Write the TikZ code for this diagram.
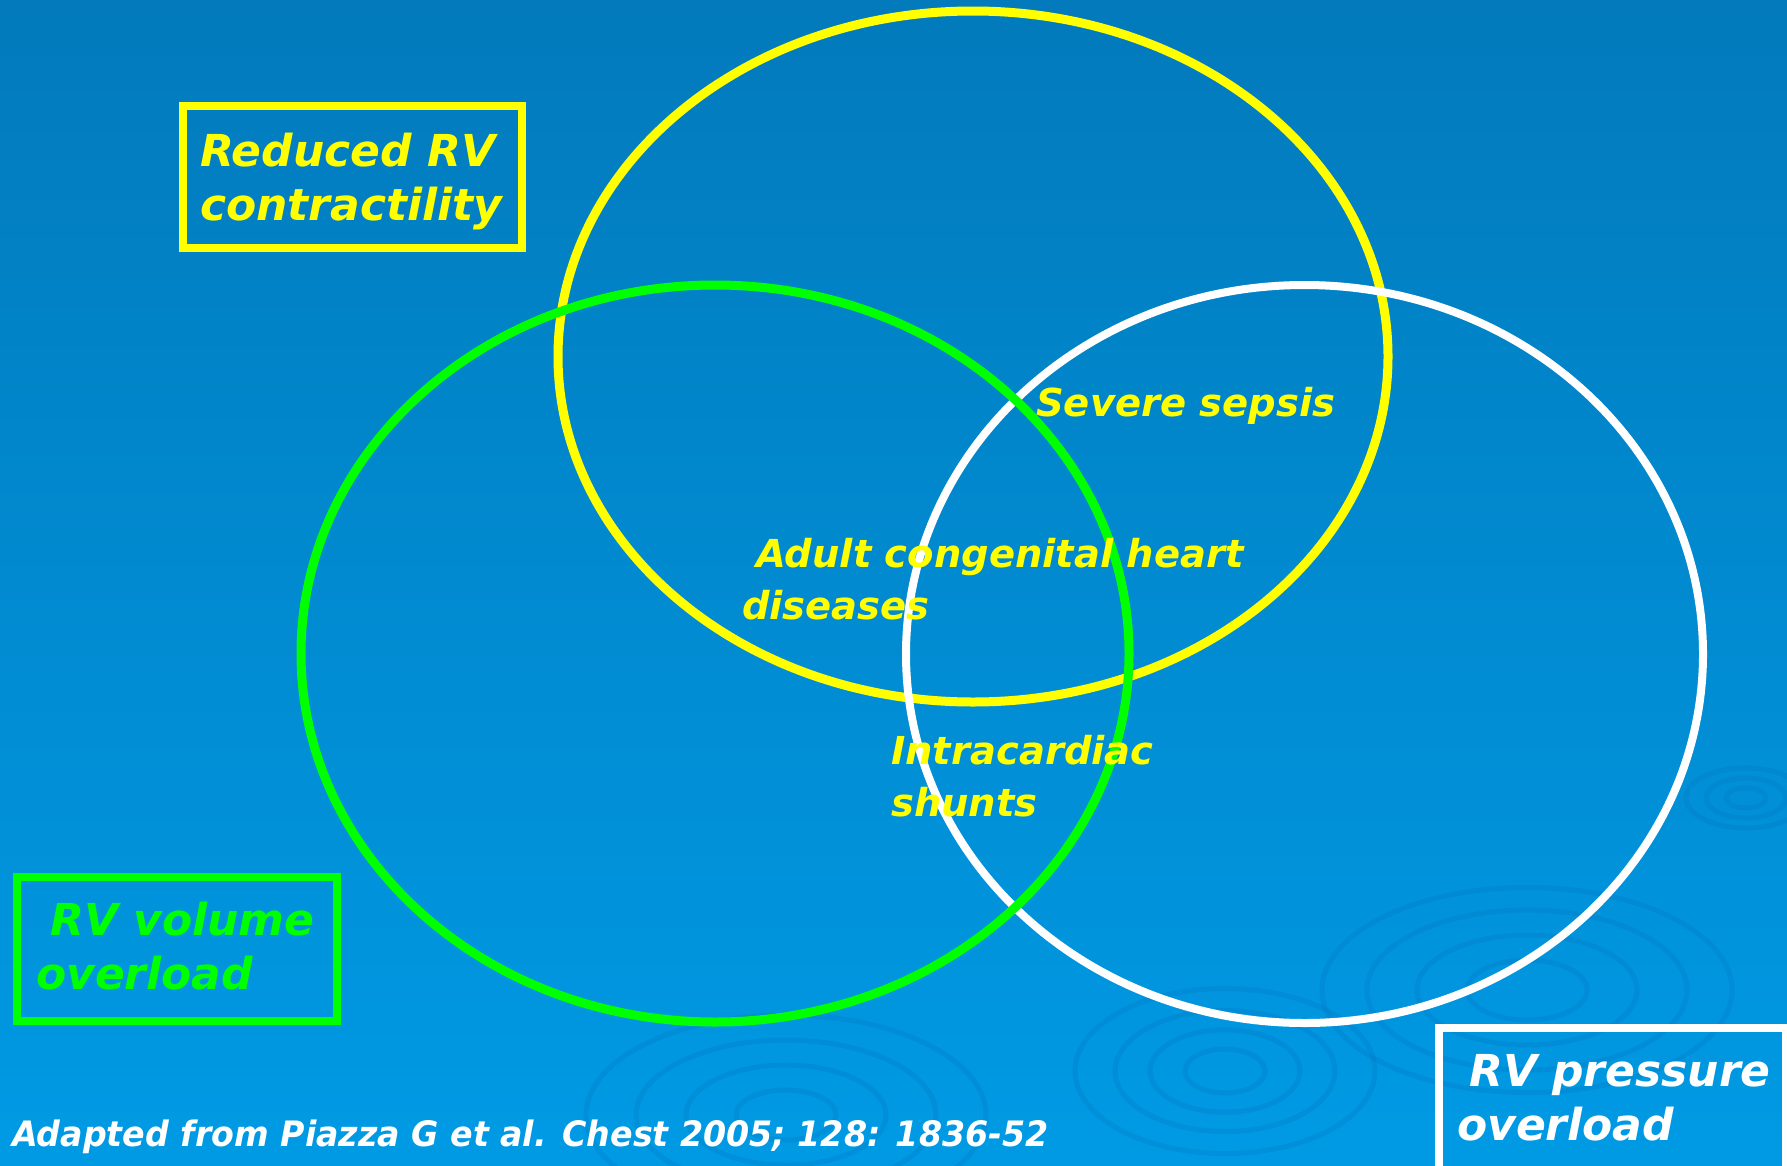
\documentclass[tikz,border=0pt]{standalone}
\usepackage{fontspec}
\setmainfont{DejaVu Sans}
\newfontfamily\citefont[FakeStretch=0.95]{DejaVu Sans}
\usepackage{tikz}
\definecolor{slidetop}{RGB}{2,122,188}
\definecolor{slidemid}{RGB}{1,128,196}
\definecolor{slidebot}{RGB}{0,154,228}
\definecolor{ripdark}{RGB}{0,120,196}
\definecolor{venyellow}{RGB}{255,255,0}
\definecolor{vengreen}{RGB}{0,255,0}
\tikzstyle{ring} = [line width=9pt]
\tikzstyle{ripple} = [line width=5pt,draw=ripdark,opacity=0.3]
\tikzstyle{outline} = [draw,line width=8pt,inner sep=0pt]
\tikzstyle{boxtext} = [anchor=base west,inner sep=0pt,align=left,
    font=\fontsize{44}{54}\selectfont\bfseries\itshape]
\tikzstyle{circtext} = [anchor=base west,inner sep=0pt,align=left,text=venyellow,
    font=\fontsize{38.5}{52}\selectfont\bfseries\itshape]

\begin{document}
\begin{tikzpicture}[x=1pt,y=-1pt]
    \useasboundingbox (0,0) rectangle (1787,1165);
    \fill[top color=slidetop,middle color=slidemid,bottom color=slidebot] (0,0) rectangle (1787,1165);

    %background ripples
    \foreach \r in {40,75,110,150}
        \draw[ripple] (1225,1071) ellipse [x radius=\r pt,y radius=0.55*\r pt];
    \foreach \r in {60,110,160,205}
        \draw[ripple] (1527,990) ellipse [x radius=\r pt,y radius=0.5*\r pt];
    \foreach \r in {50,100,150,200}
        \draw[ripple] (786,1115) ellipse [x radius=\r pt,y radius=0.5*\r pt];
    \foreach \r in {20,40,60}
        \draw[ripple] (1746,798) ellipse [x radius=\r pt,y radius=0.5*\r pt];

	\draw[ring,venyellow] (973,356.5) ellipse [x radius=415pt,y radius=345.5pt];
	\draw[ring,white,line width=8pt] (1304.5,654) ellipse [x radius=398.5pt,y radius=369pt];
	\draw[ring,vengreen] (715,653.5) ellipse [x radius=414pt,y radius=368.5pt];

    \node(contractbox) at (179,102) [outline,draw=venyellow,anchor=north west,minimum width=339pt,minimum height=142pt] {};
    \node(contract) at (200,220) [boxtext,text=venyellow] {Reduced RV\\contractility};

    \node(volumebox) at (13,873) [outline,draw=vengreen,anchor=north west,minimum width=320pt,minimum height=144pt] {};
    \node(volume) at (36,989) [boxtext,text=vengreen] {\hspace{14pt}RV volume\\overload};

    \node(pressurebox) at (1435,1024) [outline,draw=white,anchor=north west,minimum width=347pt,minimum height=160pt] {};
    \node(pressure) at (1457,1140) [boxtext,text=white] {\hspace{12pt}RV pressure\\overload};

    \node(sepsis) at (1036,416) [circtext] {Severe sepsis};
    \node(congenital) at (742,619) [circtext] {\hspace{14pt}Adult congenital heart\\diseases};
    \node(shunts) at (891,816) [circtext] {Intracardiac\\shunts};

    \node(source) at (12,1146) [anchor=base west,inner sep=0pt,text=white,
        font=\citefont\fontsize{35}{42}\selectfont\bfseries\itshape] {Adapted from Piazza G et al. Chest 2005; 128: 1836-52};
\end{tikzpicture}
\end{document}
